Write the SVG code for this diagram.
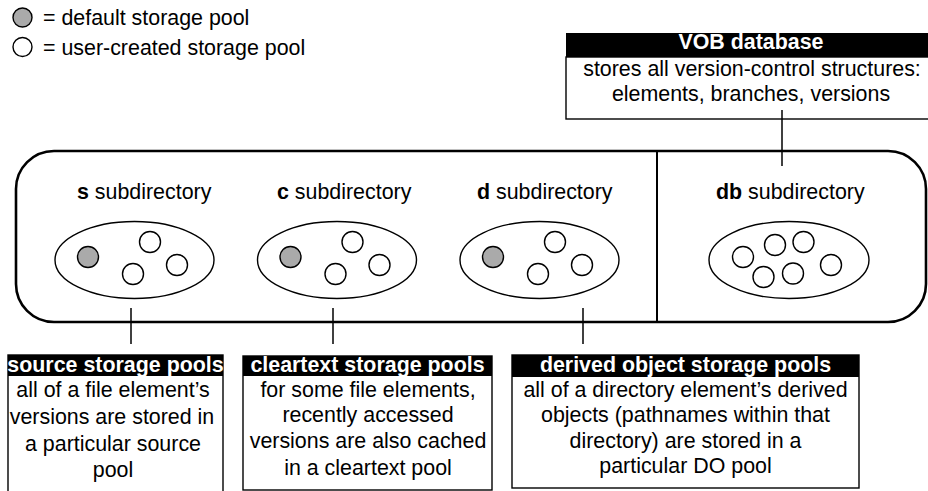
<svg xmlns="http://www.w3.org/2000/svg" width="928" height="491" viewBox="0 0 928 491">
<defs>
<style>
text{font-family:"Liberation Sans",Arial,sans-serif;font-size:21.4px;fill:#000}
.b{font-weight:bold}
.h{font-weight:bold;fill:#fff;text-anchor:middle}
.m{text-anchor:middle}
.pool{fill:#fff;stroke:#000;stroke-width:1.4}
.def{fill:#aaaaaa;stroke:#000;stroke-width:1.4}
.ell{fill:#fff;stroke:#000;stroke-width:1.4}
.box{fill:#fff;stroke:#000;stroke-width:1.4}
.hdr{fill:#000}
.conn line{stroke:#000;stroke-width:1.5}
</style>
</defs>
<rect width="928" height="491" fill="#fff"/>
<g id="legend">
<circle class="def" cx="22.5" cy="17.5" r="9.5"/>
<text x="43" y="25">= default storage pool</text>
<circle class="pool" cx="22.5" cy="47" r="9.5"/>
<text x="43" y="55">= user-created storage pool</text>
</g>
<g id="vob-container">
<rect x="16" y="151" width="910" height="171" rx="38" ry="38" fill="#fff" stroke="#000" stroke-width="2.6"/>
<line x1="657" y1="151" x2="657" y2="322" stroke="#000" stroke-width="2"/>
</g>
<g id="s-subdir">
<text x="77" y="199"><tspan class="b">s</tspan> subdirectory</text>
<ellipse class="ell" cx="134.5" cy="260" rx="79.5" ry="38.5"/>
<circle class="def" cx="88" cy="257" r="10.5"/>
<circle class="pool" cx="150" cy="242" r="10.5"/>
<circle class="pool" cx="133" cy="274" r="10.5"/>
<circle class="pool" cx="177" cy="265" r="10.5"/>
</g>
<g id="c-subdir">
<text x="277" y="199"><tspan class="b">c</tspan> subdirectory</text>
<ellipse class="ell" cx="337" cy="260" rx="79.5" ry="38.5"/>
<circle class="def" cx="290.5" cy="257" r="10.5"/>
<circle class="pool" cx="352.5" cy="242" r="10.5"/>
<circle class="pool" cx="335.5" cy="274" r="10.5"/>
<circle class="pool" cx="379.5" cy="265" r="10.5"/>
</g>
<g id="d-subdir">
<text x="477" y="199"><tspan class="b">d</tspan> subdirectory</text>
<ellipse class="ell" cx="539.5" cy="260" rx="79.5" ry="38.5"/>
<circle class="def" cx="493" cy="257" r="10.5"/>
<circle class="pool" cx="555" cy="242" r="10.5"/>
<circle class="pool" cx="538" cy="274" r="10.5"/>
<circle class="pool" cx="582" cy="265" r="10.5"/>
</g>
<g id="db-subdir">
<text x="716" y="199"><tspan class="b">db</tspan> subdirectory</text>
<ellipse class="ell" cx="789" cy="260" rx="80" ry="38.5"/>
<circle class="pool" cx="743" cy="257" r="10.5"/>
<circle class="pool" cx="775" cy="245" r="10.5"/>
<circle class="pool" cx="803.5" cy="242" r="10.5"/>
<circle class="pool" cx="763.5" cy="277" r="10.5"/>
<circle class="pool" cx="793" cy="273.5" r="10.5"/>
<circle class="pool" cx="831" cy="265" r="10.5"/>
</g>
<g id="vob-database">
<rect class="box" x="566" y="57" width="372" height="62"/>
<rect class="hdr" x="566" y="33" width="372" height="24"/>
<text class="h" x="751" y="49">VOB database</text>
<text class="m" x="752" y="76">stores all version-control structures:</text>
<text class="m" x="751" y="101">elements, branches, versions</text>
</g>
<g id="source-pools">
<rect class="box" x="8" y="355" width="215" height="145"/>
<rect class="hdr" x="8" y="355" width="215" height="21"/>
<text class="h" x="115.5" y="372">source storage pools</text>
<text class="m" x="113" y="397">all of a file element’s</text>
<text class="m" x="112" y="424">versions are stored in</text>
<text class="m" x="113" y="451">a particular source</text>
<text class="m" x="113" y="477">pool</text>
</g>
<g id="cleartext-pools">
<rect class="box" x="243" y="356" width="249" height="134"/>
<rect class="hdr" x="243" y="356" width="249" height="20"/>
<text class="h" x="367.5" y="372">cleartext storage pools</text>
<text class="m" x="368" y="397">for some file elements,</text>
<text class="m" x="368" y="422">recently accessed</text>
<text class="m" x="368" y="448">versions are also cached</text>
<text class="m" x="368" y="475">in a cleartext pool</text>
</g>
<g id="derived-pools">
<rect class="box" x="512" y="355" width="347" height="133"/>
<rect class="hdr" x="512" y="355" width="347" height="22"/>
<text class="h" x="685.5" y="372">derived object storage pools</text>
<text class="m" x="685.5" y="397">all of a directory element’s derived</text>
<text class="m" x="685.5" y="422">objects (pathnames within that</text>
<text class="m" x="685.5" y="448">directory) are stored in a</text>
<text class="m" x="685.5" y="473">particular DO pool</text>
</g>
<g id="connectors" class="conn">
<line x1="782" y1="110" x2="782" y2="166"/>
<line x1="131" y1="308" x2="131" y2="344"/>
<line x1="333" y1="308" x2="333" y2="344"/>
<line x1="583" y1="308" x2="583" y2="344"/>
</g>
</svg>
